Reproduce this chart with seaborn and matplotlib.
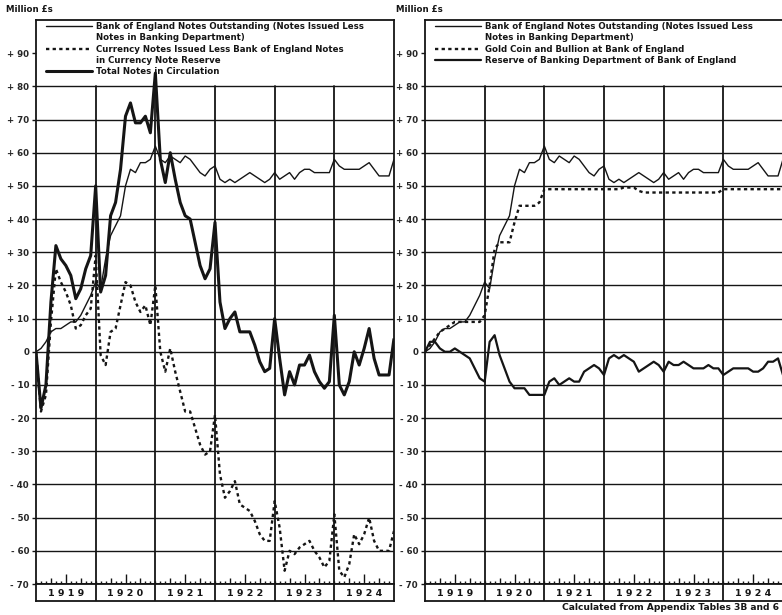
import matplotlib
matplotlib.use("Agg")
import matplotlib.pyplot as plt
from matplotlib import font_manager
from matplotlib.lines import Line2D
import numpy as np
import pandas as pd
import seaborn as sns

# month-end readings, change since end of 1918 (index 0) to end of 1924 (index 72), million £
YEARS = ["1919", "1920", "1921", "1922", "1923", "1924"]
Y_TICKS = list(range(-70, 91, 10))

boe_notes = [0, 1, 3, 6, 7, 7, 8, 9, 9, 11, 14, 17, 21,
             19, 28, 35, 38, 41, 50, 55, 54, 57, 57, 58, 62,
             58, 57, 59, 58, 57, 59, 58, 56, 54, 53, 55, 56,
             52, 51, 52, 51, 52, 53, 54, 53, 52, 51, 52, 54,
             52, 53, 54, 52, 54, 55, 55, 54, 54, 54, 54, 58,
             56, 55, 55, 55, 55, 56, 57, 55, 53, 53, 53, 58]
currency_notes = [0, -18, -13, 9, 25, 21, 18, 14, 7, 8, 11, 13, 29,
                  -1, -4, 6, 7, 14, 21, 20, 15, 12, 14, 8, 20,
                  0, -6, 1, -6, -12, -18, -18, -23, -28, -31, -30, -19,
                  -37, -44, -42, -39, -46, -47, -48, -51, -55, -57, -57, -45,
                  -53, -66, -60, -61, -59, -58, -57, -60, -62, -65, -63, -49,
                  -66, -68, -64, -55, -58, -55, -50, -57, -60, -60, -60, -54]
total_notes = [0, -17, -10, 15, 32, 28, 26, 23, 16, 19, 25, 29, 50,
               18, 23, 41, 45, 55, 71, 75, 69, 69, 71, 66, 84,
               58, 51, 60, 52, 45, 41, 40, 33, 26, 22, 25, 39,
               15, 7, 10, 12, 6, 6, 6, 2, -3, -6, -5, 10,
               -2, -13, -6, -10, -4, -4, -1, -6, -9, -11, -9, 11,
               -10, -13, -9, 0, -4, 1, 7, -2, -7, -7, -7, 4]
gold = [0, 2, 4, 6, 7, 8, 9, 9, 9, 9, 9, 9, 11,
        20, 31, 33, 33, 33, 39, 44, 44, 44, 44, 45, 49,
        49, 49, 49, 49, 49, 49, 49, 49, 49, 49, 49, 49,
        49, 49, 49, 49.5, 49.5, 49.5, 48.5, 48, 48, 48, 48, 48,
        48, 48, 48, 48, 48, 48, 48, 48, 48, 48, 48, 49,
        49, 49, 49, 49, 49, 49, 49, 49, 49, 49, 49, 49]
reserve = [0, 3, 3, 1, 0, 0, 1, 0, -1, -2, -5, -8, -9,
           3, 5, -1, -5, -9, -11, -11, -11, -13, -13, -13, -13,
           -9, -8, -10, -9, -8, -9, -9, -6, -5, -4, -5, -7,
           -2, -1, -2, -1, -2, -3, -6, -5, -4, -3, -4, -6,
           -3, -4, -4, -3, -4, -5, -5, -5, -4, -5, -5, -7,
           -6, -5, -5, -5, -5, -6, -6, -5, -3, -3, -2, -7]

# legend labels, one list entry per printed line
LABEL_BOE = ["Bank of England Notes Outstanding (Notes Issued Less",
             "Notes in Banking Department)"]
LABEL_CURR = ["Currency Notes Issued Less Bank of England Notes",
              "in Currency Note Reserve"]
LABEL_TOTAL = ["Total Notes in Circulation"]
LABEL_GOLD = ["Gold Coin and Bullion at Bank of England"]
LABEL_RES = ["Reserve of Banking Department of Bank of England"]

INK = "#151515"

df = pd.DataFrame({
    "month": np.arange(len(boe_notes)),
    "boe": boe_notes,
    "curr": currency_notes,
    "total": total_notes,
    "gold": gold,
    "reserve": reserve,
})

sns.set_style("white")
names = {f.name for f in font_manager.fontManager.ttflist}
FONT = "Liberation Sans Narrow" if "Liberation Sans Narrow" in names else "DejaVu Sans"
plt.rcParams["font.family"] = [FONT, "DejaVu Sans"]
plt.rcParams["font.weight"] = "bold"
FS = 7.3 if FONT != "DejaVu Sans" else 6.2

THIN = dict(lw=1.0, linestyle="-")
DOTS = dict(lw=1.7, linestyle=(0, (1.4, 1.4)))
THICK = dict(lw=2.2, linestyle="-")
MID = dict(lw=1.6, linestyle="-")


def ytick_label(v):
    if v == 0:
        return "0"
    return f"+ {v}" if v > 0 else f"- {-v}"


def draw_panel(fig, left, series):
    ax = fig.add_axes([left, 1 - 584 / 615, 358 / 782, 564 / 615])
    strip = fig.add_axes([left, 1 - 600.6 / 615, 358 / 782, 16.6 / 615])

    for col, label, style in series:
        sns.lineplot(data=df, x="month", y=col, ax=ax, color=INK, legend=False,
                     solid_capstyle="butt", dash_capstyle="butt", **style)

    ax.set_xlim(0, 72)
    ax.set_ylim(-70, 100)
    ax.set_xlabel("")
    ax.set_ylabel("")

    for v in range(-60, 81, 10):
        ax.axhline(v, color=INK, lw=1.0, zorder=0)
    for m in range(12, 72, 12):
        ax.axvline(m, ymax=150 / 170, color=INK, lw=1.3, zorder=0)
        strip.axvline(m, color=INK, lw=1.3)

    ax.set_yticks(Y_TICKS)
    ax.set_yticklabels([ytick_label(v) for v in Y_TICKS], fontsize=FS)
    ax.tick_params(axis="y", direction="out", length=3, width=1, color=INK,
                   pad=2, left=True)

    # month ticks along the bottom line
    ax.set_xticks([m for m in range(72) if m % 12 in (3, 6, 9)])
    ax.set_xticks(range(72), minor=True)
    ax.tick_params(axis="x", which="both", direction="in", bottom=True,
                   labelbottom=False, color=INK, width=1)
    ax.tick_params(axis="x", which="minor", length=2.5)
    ax.tick_params(axis="x", which="major", length=4)
    for t, m in zip(ax.xaxis.get_major_ticks(), ax.get_xticks()):
        if int(m) % 12 == 6:
            t.tick1line.set_markersize(7)

    for s in ax.spines.values():
        s.set_color(INK)
        s.set_linewidth(1.3)

    strip.set_xlim(0, 72)
    strip.set_ylim(0, 1)
    strip.set_xticks([])
    strip.set_yticks([])
    for s in strip.spines.values():
        s.set_color(INK)
        s.set_linewidth(1.3)
    for k, year in enumerate(YEARS):
        strip.text(12 * k + 6, 0.45, " ".join(year), ha="center", va="center",
                   fontsize=FS + 0.6, color=INK)

    # legend: handle sits on the first printed line of each entry
    handles, labels = [], []
    for col, label, style in series:
        handles.append(Line2D([], [], color=INK, dash_capstyle="butt", **style))
        labels.append(label[0])
        for extra in label[1:]:
            handles.append(Line2D([], [], color="none"))
            labels.append(extra)
    leg = ax.legend(handles, labels, loc="upper left", bbox_to_anchor=(0.028, 0.997),
                    frameon=False, fontsize=FS, handlelength=5.3, handletextpad=0.45,
                    labelspacing=0.28, borderpad=0, borderaxespad=0)
    for t in leg.get_texts():
        t.set_color(INK)
    return ax


fig = plt.figure(figsize=(7.82, 6.15), dpi=100)
fig.patch.set_facecolor("white")

draw_panel(fig, 36 / 782, [
    ("boe", LABEL_BOE, THIN),
    ("curr", LABEL_CURR, DOTS),
    ("total", LABEL_TOTAL, THICK),
])
draw_panel(fig, 425 / 782, [
    ("boe", LABEL_BOE, THIN),
    ("gold", LABEL_GOLD, DOTS),
    ("reserve", LABEL_RES, MID),
])

fig.text(6 / 782, 1 - 9 / 615, "Million £s", fontsize=FS, color=INK, va="center")
fig.text(396 / 782, 1 - 9 / 615, "Million £s", fontsize=FS, color=INK, va="center")
fig.text(779 / 782, 1 - 607 / 615, "Calculated from Appendix Tables 3B and 6",
         fontsize=FS + 0.4, color=INK, va="center", ha="right")

fig.savefig("out.png", dpi=100, facecolor="white")
